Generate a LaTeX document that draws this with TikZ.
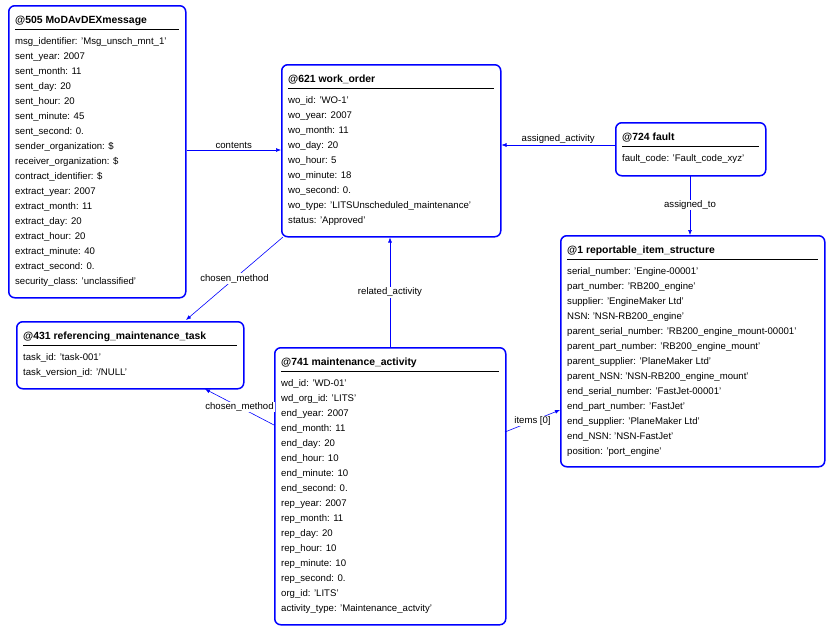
\documentclass[tikz,border=0pt]{standalone}
\usepackage{fontspec}
\setmainfont{Liberation Sans}
\usetikzlibrary{arrows.meta,positioning}
\definecolor{umlblue}{RGB}{0,0,255}
\tikzset{
  box/.style={draw=umlblue, line width=1.5pt, rounded corners=6pt, anchor=north west, inner sep=0pt},
  attr/.style={anchor=north west, align=left, inner sep=0pt, font=\fontsize{9.6}{15}\selectfont},
  link/.style={draw=umlblue, line width=0.6pt, -{Latex[length=5pt,width=4pt]}},
  lbl/.style={font=\fontsize{9.6}{11}\selectfont, inner sep=1pt}
}
\newcommand{\ttl}[1]{\textbf{\fontsize{10.4}{15}\selectfont #1}\\[6pt]}
\begin{document}
\begin{tikzpicture}[x=1pt, y=-1pt]
  \useasboundingbox (0,0) rectangle (829,630);

  \node[box, minimum width=177, minimum height=292] (n505) at (8,5) {};
  \node[box, minimum width=219, minimum height=172] (n621) at (281,64) {};
  \node[box, minimum width=150, minimum height=53] (n724) at (615,122) {};
  \node[box, minimum width=264, minimum height=231] (n1) at (560,235) {};
  \node[box, minimum width=227, minimum height=67] (n431) at (16,321) {};
  \node[box, minimum width=231, minimum height=277] (n741) at (274,347) {};

  \node[attr] (t505) at ([xshift=7,yshift=-11]n505.north west) {\ttl{@505 MoDAvDEXmessage}
    msg\_identifier: 'Msg\_unsch\_mnt\_1'\\ sent\_year: 2007\\ sent\_month: 11\\ sent\_day: 20\\
    sent\_hour: 20\\ sent\_minute: 45\\ sent\_second: 0.\\ sender\_organization: \$\\
    receiver\_organization: \$\\ contract\_identifier: \$\\ extract\_year: 2007\\
    extract\_month: 11\\ extract\_day: 20\\ extract\_hour: 20\\ extract\_minute: 40\\
    extract\_second: 0.\\ security\_class: 'unclassified'};
  \node[attr] (t621) at ([xshift=7,yshift=-11]n621.north west) {\ttl{@621 work\_order}
    wo\_id: 'WO-1'\\ wo\_year: 2007\\ wo\_month: 11\\ wo\_day: 20\\ wo\_hour: 5\\
    wo\_minute: 18\\ wo\_second: 0.\\ wo\_type: 'LITSUnscheduled\_maintenance'\\ status: 'Approved'};
  \node[attr] (t724) at ([xshift=7,yshift=-11]n724.north west) {\ttl{@724 fault}
    fault\_code: 'Fault\_code\_xyz'};
  \node[attr] (t1) at ([xshift=7,yshift=-11]n1.north west) {\ttl{@1 reportable\_item\_structure}
    serial\_number: 'Engine-00001'\\ part\_number: 'RB200\_engine'\\ supplier: 'EngineMaker Ltd'\\
    NSN: 'NSN-RB200\_engine'\\ parent\_serial\_number: 'RB200\_engine\_mount-00001'\\
    parent\_part\_number: 'RB200\_engine\_mount'\\ parent\_supplier: 'PlaneMaker Ltd'\\
    parent\_NSN: 'NSN-RB200\_engine\_mount'\\ end\_serial\_number: 'FastJet-00001'\\
    end\_part\_number: 'FastJet'\\ end\_supplier: 'PlaneMaker Ltd'\\ end\_NSN: 'NSN-FastJet'\\
    position: 'port\_engine'};
  \node[attr] (t431) at ([xshift=7,yshift=-11]n431.north west) {\ttl{@431 referencing\_maintenance\_task}
    task\_id: 'task-001'\\ task\_version\_id: '/NULL'};
  \node[attr] (t741) at ([xshift=7,yshift=-11]n741.north west) {\ttl{@741 maintenance\_activity}
    wd\_id: 'WD-01'\\ wd\_org\_id: 'LITS'\\ end\_year: 2007\\ end\_month: 11\\ end\_day: 20\\
    end\_hour: 10\\ end\_minute: 10\\ end\_second: 0.\\ rep\_year: 2007\\ rep\_month: 11\\
    rep\_day: 20\\ rep\_hour: 10\\ rep\_minute: 10\\ rep\_second: 0.\\ org\_id: 'LITS'\\
    activity\_type: 'Maintenance\_actvity'};

  % title underlines
  \foreach \n in {n505,n621,n724,n1,n431,n741}
    \draw[line width=0.6pt] ([xshift=7,yshift=-24]\n.north west) -- ([xshift=-8,yshift=-24]\n.north east);

  % connectors
  \coordinate (c505) at (185,150);
  \coordinate (c621w) at (281,150);
  \draw[link] (n505.east |- c505) -- node[lbl, above] {contents} (c621w);
  \draw[link] (n724.west |- 0,145) -- node[lbl, above] {assigned\_activity} (n621.east |- 0,145);
  \draw[link] (690,175) -- node[lbl, fill=white] {assigned\_to} (n1.north -| 690,0);
  \coordinate (m621) at (283,237);
  \coordinate (m431) at (186,320);
  \draw[link] (m621) -- node[lbl, fill=white] {chosen\_method} (m431);
  \draw[link] (n741.north -| 390,0) -- node[lbl, fill=white] {related\_activity} (n621.south -| 390,0);
  \coordinate (a741) at (274,425);
  \coordinate (a431) at (205,389);
  \draw[link] (a741) -- node[lbl, fill=white] {chosen\_method} (a431);
  \coordinate (b741) at (505,432);
  \coordinate (b1) at (560,410);
  \draw[link] (b741) -- node[lbl, fill=white] {items [0]} (b1);
\end{tikzpicture}
\end{document}
